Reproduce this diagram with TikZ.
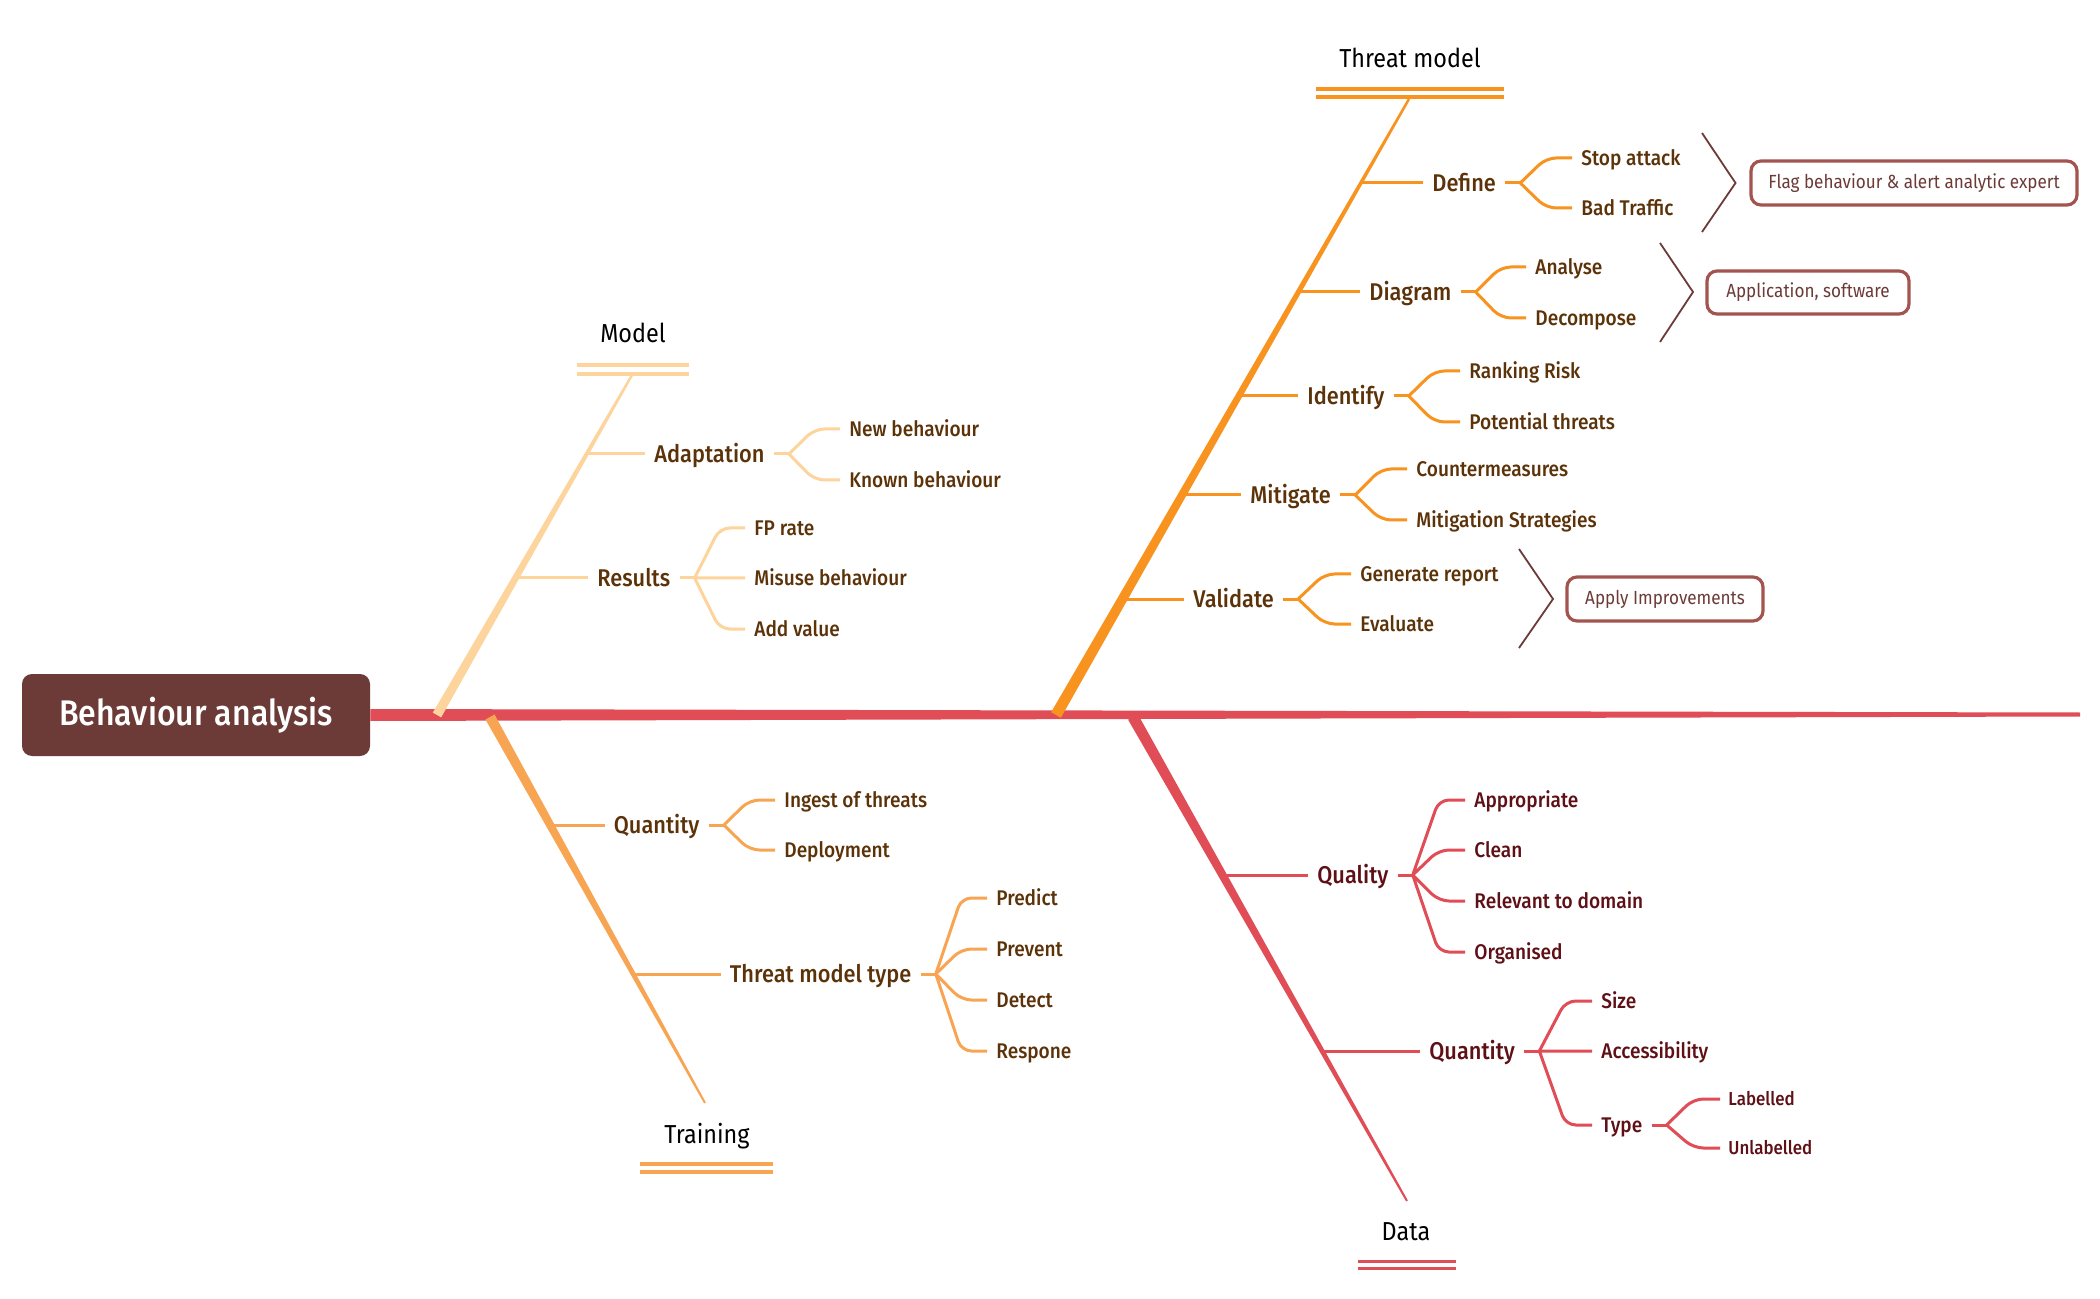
\documentclass[tikz,border=0pt]{standalone}
\usepackage{fontspec}
\setmainfont{Fira Sans}[FakeStretch=0.9]
\newfontfamily\medfont{Fira Sans Medium}[FakeStretch=0.9]
\usetikzlibrary{calc}
\definecolor{cModel}{HTML}{FDD49C}
\definecolor{cThreat}{HTML}{F7931E}
\definecolor{cTrain}{HTML}{F8A553}
\definecolor{cData}{HTML}{E04D56}
\definecolor{cCore}{HTML}{6C3B37}
\definecolor{tBrown}{HTML}{5C3209}
\definecolor{tRed}{HTML}{5E1016}
\definecolor{cCall}{HTML}{A4544F}
\newcommand\bonefill[5]{\fill[#5] ($(#1)!#3!90:(#2)$) -- ($(#1)!#3!-90:(#2)$) -- ($(#2)!#4!90:(#1)$) -- ($(#2)!#4!-90:(#1)$) -- cycle;}
\begin{document}
\begin{tikzpicture}[x=0.5pt,y=-0.5pt,
  title/.style={font=\fontsize{13}{15}\selectfont, text=black, anchor=base, inner sep=0pt},
  lvtwo/.style={font=\medfont\fontsize{12.1}{14}\selectfont, anchor=west, inner xsep=4.5pt, inner ysep=0pt, text height=11.36pt, text depth=3pt},
  lvthree/.style={font=\medfont\fontsize{10.6}{12}\selectfont, anchor=west, inner xsep=4.5pt, inner ysep=0pt, text height=9.95pt, text depth=2.65pt},
  lvfour/.style={font=\medfont\fontsize{9.4}{11}\selectfont, anchor=west, inner xsep=4pt, inner ysep=0pt, text height=8.83pt, text depth=2.35pt},
  link/.style={line width=1.5pt},
  kids/.style={line width=1.5pt, rounded corners=5pt},
  dbl/.style={line width=1.75pt},
  chev/.style={draw=cCore, line width=0.9pt},
  callout/.style={draw=cCall, line width=1.6pt, rounded corners=5pt, fill=white, text=cCore, font=\fontsize{9.5}{11}\selectfont, inner sep=0pt},
  elbow/.style={to path={let \p1=($(\tikztostart)!0.5!(\tikztotarget)$), \p2=(\tikztotarget) in -- (\x1,\y2) -- (\tikztotarget)}}
]
\useasboundingbox (0,0) rectangle (2100,1299);
\fill[white] (0,0) rectangle (2100,1299);

% core and spine
\node[fill=cCore, rounded corners=5pt, minimum width=174pt, minimum height=41pt, inner sep=0pt, text=white, font=\medfont\fontsize{17.8}{20}\selectfont] (core) at (196,715) {Behaviour analysis};
\coordinate (spineEnd) at (2080,714.5);
\fill[cData] ($(core.east)+(0,-6)$) -- ($(spineEnd)+(0,-2)$) -- ($(spineEnd)+(0,2)$) -- ($(core.east)+(0,6)$) -- cycle;

% ---------------- Model ----------------
\coordinate (Mb) at (437,715);
\coordinate (Mt) at (632,375);
\bonefill{Mb}{Mt}{2.4pt}{0.6pt}{cModel}
\node[title] (tM) at (633,343) {Model};
\draw[cModel,dbl] (577,365) -- (689,365) (577,374) -- (689,374);
\begin{scope}[text=tBrown]
\coordinate (jAd) at (586.7,454);
\node[lvtwo] (ad) at (645,454) {Adaptation};
\draw[cModel,link] (jAd) -- (ad.west);
\coordinate (fAd) at ($(ad.east)+(15,0)$);
\draw[cModel,link] (ad.east) -- (fAd);
\node[lvthree] (nb) at (840,429) {New behaviour};
\node[lvthree] (kb) at (840,480) {Known behaviour};
\draw[cModel,kids] (fAd) to[elbow] (nb.west) (fAd) to[elbow] (kb.west);

\coordinate (jRe) at (515.6,578);
\node[lvtwo] (re) at (588,578) {Results};
\draw[cModel,link] (jRe) -- (re.west);
\coordinate (fRe) at ($(re.east)+(15,0)$);
\draw[cModel,link] (re.east) -- (fRe);
\node[lvthree] (fp) at (745,528) {FP rate};
\node[lvthree] (mb) at (745,578) {Misuse behaviour};
\node[lvthree] (av) at (745,629) {Add value};
\draw[cModel,kids] (fRe) to[elbow] (fp.west) (fRe) to[elbow] (mb.west) (fRe) to[elbow] (av.west);
\end{scope}

% ---------------- Threat model ----------------
\coordinate (Tb) at (1056,715);
\coordinate (Tt) at (1409,99);
\bonefill{Tb}{Tt}{2.8pt}{0.6pt}{cThreat}
\node[title] (tT) at (1410,68) {Threat model};
\draw[cThreat,dbl] (1316,89) -- (1504,89) (1316,97) -- (1504,97);
\begin{scope}[text=tBrown]
\coordinate (jDe) at (1360.9,183);
\node[lvtwo] (de) at (1423,183) {Define};
\draw[cThreat,link] (jDe) -- (de.west);
\coordinate (fDe) at ($(de.east)+(15,0)$);
\draw[cThreat,link] (de.east) -- (fDe);
\node[lvthree] (sa) at (1572,158) {Stop attack};
\node[lvthree] (bt) at (1572,208) {Bad Traffic};
\draw[cThreat,kids] (fDe) to[elbow] (sa.west) (fDe) to[elbow] (bt.west);

\coordinate (jDi) at (1298.4,292);
\node[lvtwo] (di) at (1360,292) {Diagram};
\draw[cThreat,link] (jDi) -- (di.west);
\coordinate (fDi) at ($(di.east)+(15,0)$);
\draw[cThreat,link] (di.east) -- (fDi);
\node[lvthree] (an) at (1526,267) {Analyse};
\node[lvthree] (dc) at (1526,318) {Decompose};
\draw[cThreat,kids] (fDi) to[elbow] (an.west) (fDi) to[elbow] (dc.west);

\coordinate (jId) at (1238.8,396);
\node[lvtwo] (id) at (1298,396) {Identify};
\draw[cThreat,link] (jId) -- (id.west);
\coordinate (fId) at ($(id.east)+(15,0)$);
\draw[cThreat,link] (id.east) -- (fId);
\node[lvthree] (rr) at (1460,371) {Ranking Risk};
\node[lvthree] (pt) at (1460,422) {Potential threats};
\draw[cThreat,kids] (fId) to[elbow] (rr.west) (fId) to[elbow] (pt.west);

\coordinate (jMi) at (1182.1,495);
\node[lvtwo] (mi) at (1241,495) {Mitigate};
\draw[cThreat,link] (jMi) -- (mi.west);
\coordinate (fMi) at ($(mi.east)+(15,0)$);
\draw[cThreat,link] (mi.east) -- (fMi);
\node[lvthree] (cm) at (1407,469) {Countermeasures};
\node[lvthree] (ms) at (1407,520) {Mitigation Strategies};
\draw[cThreat,kids] (fMi) to[elbow] (cm.west) (fMi) to[elbow] (ms.west);

\coordinate (jVa) at (1122.5,599);
\node[lvtwo] (va) at (1184,599) {Validate};
\draw[cThreat,link] (jVa) -- (va.west);
\coordinate (fVa) at ($(va.east)+(15,0)$);
\draw[cThreat,link] (va.east) -- (fVa);
\node[lvthree] (gr) at (1351,574) {Generate report};
\node[lvthree] (ev) at (1351,624) {Evaluate};
\draw[cThreat,kids] (fVa) to[elbow] (gr.west) (fVa) to[elbow] (ev.west);
\end{scope}

% callouts
\draw[chev] (1702,133) -- (1735.5,183) -- (1702,232);
\node[callout, minimum width=163pt, minimum height=22pt] (b1) at (1914,183) {Flag behaviour \& alert analytic expert};
\draw[chev] (1660,243) -- (1693,292) -- (1660,342);
\node[callout, minimum width=101pt, minimum height=21.5pt] (b2) at (1808,292.5) {Application, software};
\draw[chev] (1519,549) -- (1553,599) -- (1519,648);
\node[callout, minimum width=98pt, minimum height=22pt] (b3) at (1665,599) {Apply Improvements};

% ---------------- Training ----------------
\coordinate (Rb) at (490,717);
\coordinate (Re) at (705,1103);
\bonefill{Rb}{Re}{2.6pt}{0.5pt}{cTrain}
\node[title] (tR) at (707,1143) {Training};
\draw[cTrain,dbl] (640,1164) -- (773,1164) (640,1172) -- (773,1172);
\begin{scope}[text=tBrown]
\coordinate (jQt) at (549.5,825);
\node[lvtwo] (qt) at (604.5,825) {Quantity};
\draw[cTrain,link] (jQt) -- (qt.west);
\coordinate (fQt) at ($(qt.east)+(15,0)$);
\draw[cTrain,link] (qt.east) -- (fQt);
\node[lvthree] (it) at (775,800) {Ingest of threats};
\node[lvthree] (dp) at (775,850) {Deployment};
\draw[cTrain,kids] (fQt) to[elbow] (it.west) (fQt) to[elbow] (dp.west);

\coordinate (jTm) at (632,974);
\node[lvtwo] (tm) at (720.5,974) {Threat model type};
\draw[cTrain,link] (jTm) -- (tm.west);
\coordinate (fTm) at ($(tm.east)+(15,0)$);
\draw[cTrain,link] (tm.east) -- (fTm);
\node[lvthree] (pr) at (987,898) {Predict};
\node[lvthree] (pv) at (987,949) {Prevent};
\node[lvthree] (dt) at (987,1000) {Detect};
\node[lvthree] (rs) at (987,1051) {Respone};
\draw[cTrain,kids] (fTm) to[elbow] (pr.west) (fTm) to[elbow] (pv.west) (fTm) to[elbow] (dt.west) (fTm) to[elbow] (rs.west);
\end{scope}

% ---------------- Data ----------------
\coordinate (Db) at (1133,717);
\coordinate (De) at (1407,1201);
\bonefill{Db}{De}{2.8pt}{0.5pt}{cData}
\node[title] (tD) at (1406,1240) {Data};
\draw[cData,dbl] (1358,1261.5) -- (1456,1261.5) (1358,1268.5) -- (1456,1268.5);
\begin{scope}[text=tRed]
\coordinate (jQl) at (1222.4,875);
\node[lvtwo] (ql) at (1308,875) {Quality};
\draw[cData,link] (jQl) -- (ql.west);
\coordinate (fQl) at ($(ql.east)+(15,0)$);
\draw[cData,link] (ql.east) -- (fQl);
\node[lvthree] (ap) at (1465,800) {Appropriate};
\node[lvthree] (cl) at (1465,850) {Clean};
\node[lvthree] (rd) at (1465,901) {Relevant to domain};
\node[lvthree] (og) at (1465,952) {Organised};
\draw[cData,kids] (fQl) to[elbow] (ap.west) (fQl) to[elbow] (cl.west) (fQl) to[elbow] (rd.west) (fQl) to[elbow] (og.west);

\coordinate (jQn) at (1322,1051);
\node[lvtwo] (qn) at (1420,1051) {Quantity};
\draw[cData,link] (jQn) -- (qn.west);
\coordinate (fQn) at ($(qn.east)+(15,0)$);
\draw[cData,link] (qn.east) -- (fQn);
\node[lvthree] (sz) at (1592,1001) {Size};
\node[lvthree] (ac) at (1592,1051) {Accessibility};
\node[lvthree] (ty) at (1592,1125) {Type};
\draw[cData,kids] (fQn) to[elbow] (sz.west) (fQn) to[elbow] (ac.west) (fQn) to[elbow] (ty.west);

\coordinate (fTy) at ($(ty.east)+(15,0)$);
\draw[cData,link] (ty.east) -- (fTy);
\node[lvfour] (lb) at (1720,1099) {Labelled};
\node[lvfour] (ul) at (1720,1148) {Unlabelled};
\draw[cData,kids] (fTy) to[elbow] (lb.west) (fTy) to[elbow] (ul.west);
\end{scope}
\end{tikzpicture}
\end{document}
